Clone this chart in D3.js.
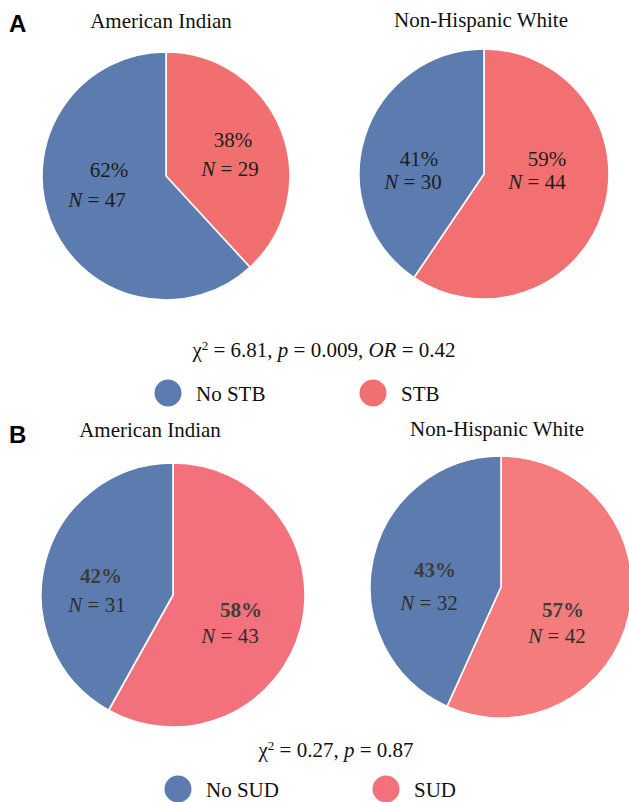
<!DOCTYPE html>
<html>
<head>
<meta charset="utf-8">
<script src="https://cdn.jsdelivr.net/npm/d3@7"></script>
<style>
  html, body { margin: 0; padding: 0; background: #ffffff; }
  svg { display: block; }
</style>
</head>
<body>
<svg id="chart" width="629" height="802"></svg>
<script>
// Groups compared in both panels
const groups = ["American Indian", "Non-Hispanic White"];

// Panel A: counts per group, [No STB, STB]
const stbNo = [47, 30];
const stbYes = [29, 44];

// Panel B: counts per group, [No SUD, SUD]
const sudNo = [31, 32];
const sudYes = [43, 42];

// Test statistics shown under each panel
const statsA = { chi2: "6.81", p: "0.009", or: "0.42" };
const statsB = { chi2: "0.27", p: "0.87" };

// Legend entries
const legendA = ["No STB", "STB"];
const legendB = ["No SUD", "SUD"];

const blue = "#5c7cb0";
const serif = "'Liberation Serif', 'Times New Roman', Times, 'DejaVu Serif', serif";

const svg = d3.select("#chart").attr("font-family", serif);
svg.append("rect").attr("width", 629).attr("height", 802).attr("fill", "#fff");

// Panel layouts: pie centres, radii, slice colours and label offsets from centre
const panels = [
  {
    letter: "A", letterPos: [9, 32],
    no: stbNo, yes: stbYes, bold: false,
    pies: [
      { cx: 166, cy: 176, r: 124, title: [161, 28], red: "#f26f70",
        yesPct: [67, -29], yesN: [64, 0], noPct: [-57, 1], noN: [-69, 31] },
      { cx: 484, cy: 174, r: 125, title: [481, 27], red: "#f27071",
        yesPct: [63, -8], yesN: [53, 15], noPct: [-65, -8], noN: [-71, 15] }
    ],
    legend: legendA, stats: statsA, statsPos: [324, 357],
    legendY: 393, legendTextY: 401, legendX: [168, 373]
  },
  {
    letter: "B", letterPos: [9, 443],
    no: sudNo, yes: sudYes, bold: true,
    pies: [
      { cx: 173, cy: 595, r: 132, title: [150, 437], red: "#f2717c",
        yesPct: [68, 22], yesN: [57, 48], noPct: [-72, -12], noN: [-76, 17] },
      { cx: 501, cy: 587, r: 131, title: [497, 436], red: "#f47c7d",
        yesPct: [62, 30], yesN: [56, 56], noPct: [-66, -10], noN: [-72, 23] }
    ],
    legend: legendB, stats: statsB, statsPos: [336, 757],
    legendY: 789, legendTextY: 797, legendX: [178, 386]
  }
];

const pie = d3.pie().sort(null).value(d => d.n);

function serifText(sel) {
  return sel.attr("font-family", serif).style("font-family", serif);
}

panels.forEach(panel => {
  svg.append("text")
    .attr("x", panel.letterPos[0]).attr("y", panel.letterPos[1])
    .style("font-family", "'Liberation Sans', Arial, sans-serif")
    .style("font-weight", "bold")
    .style("font-size", "24px")
    .style("fill", "#000")
    .text(panel.letter);

  panel.pies.forEach((p, gi) => {
    serifText(svg.append("text"))
      .attr("x", p.title[0]).attr("y", p.title[1])
      .attr("text-anchor", "middle")
      .style("font-size", "21px")
      .style("fill", "#111")
      .text(groups[gi]);

    const total = panel.no[gi] + panel.yes[gi];
    const slices = [
      { key: "yes", n: panel.yes[gi], color: p.red },
      { key: "no", n: panel.no[gi], color: blue }
    ];
    const arc = d3.arc().innerRadius(0).outerRadius(p.r);
    const g = svg.append("g").attr("transform", `translate(${p.cx},${p.cy})`);

    g.selectAll("path")
      .data(pie(slices))
      .join("path")
      .attr("d", arc)
      .attr("fill", d => d.data.color)
      .attr("stroke", "#fff")
      .attr("stroke-width", 1.6)
      .attr("stroke-linejoin", "round");

    slices.forEach(s => {
      const pct = Math.round(s.n / total * 100);
      const pctPos = p[s.key + "Pct"];
      const nPos = p[s.key + "N"];
      serifText(g.append("text"))
        .attr("x", pctPos[0]).attr("y", pctPos[1])
        .attr("text-anchor", "middle")
        .style("font-size", "21px")
        .style("font-weight", panel.bold ? "bold" : "normal")
        .style("fill", panel.bold ? "#3d3d3d" : "#1e1e1e")
        .text(pct + "%");
      const t = serifText(g.append("text"))
        .attr("x", nPos[0]).attr("y", nPos[1])
        .attr("text-anchor", "middle")
        .style("font-size", "21px")
        .style("fill", panel.bold ? "#2e2e2e" : "#1e1e1e");
      t.append("tspan").style("font-style", "italic").text("N");
      t.append("tspan").text(" = " + s.n);
    });
  });

  // Statistics line
  const st = serifText(svg.append("text"))
    .attr("x", panel.statsPos[0]).attr("y", panel.statsPos[1])
    .attr("text-anchor", "middle")
    .style("font-size", "21px")
    .style("fill", "#111");
  st.append("tspan").text("\u03c7");
  st.append("tspan").attr("dy", -7).style("font-size", "13px").text("2");
  st.append("tspan").attr("dy", 7).text(" = " + panel.stats.chi2 + ", ");
  st.append("tspan").style("font-style", "italic").text("p");
  st.append("tspan").text(" = " + panel.stats.p);
  if (panel.stats.or) {
    st.append("tspan").text(", ");
    st.append("tspan").style("font-style", "italic").text("OR");
    st.append("tspan").text(" = " + panel.stats.or);
  }

  // Legend
  const legendColors = [blue, panel.pies[0].red];
  panel.legend.forEach((label, i) => {
    svg.append("circle")
      .attr("cx", panel.legendX[i]).attr("cy", panel.legendY)
      .attr("r", 13.5)
      .attr("fill", legendColors[i]);
    serifText(svg.append("text"))
      .attr("x", panel.legendX[i] + 28).attr("y", panel.legendTextY)
      .style("font-size", "21px")
      .style("fill", "#111")
      .text(label);
  });
});
</script>
</body>
</html>
